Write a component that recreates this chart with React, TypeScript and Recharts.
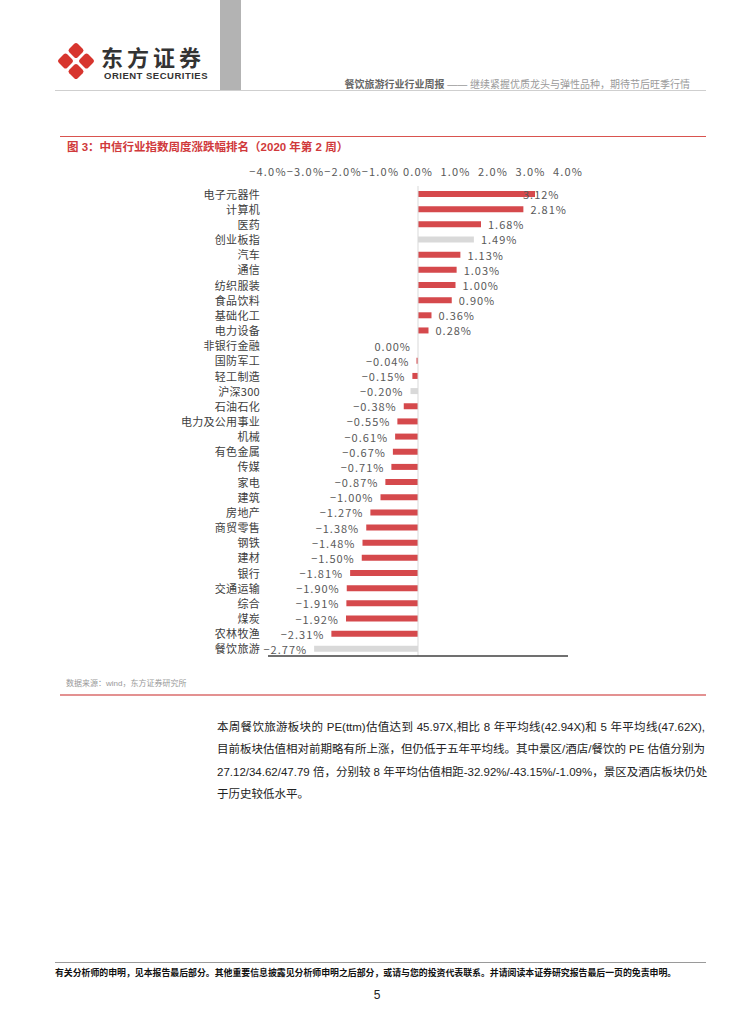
import React from 'react';
import { BarChart, Bar, XAxis, YAxis, Cell, LabelList, ReferenceLine } from 'recharts';

const categories = [
  '电子元器件', '计算机', '医药', '创业板指', '汽车', '通信', '纺织服装', '食品饮料',
  '基础化工', '电力设备', '非银行金融', '国防军工', '轻工制造', '沪深300', '石油石化',
  '电力及公用事业', '机械', '有色金属', '传媒', '家电', '建筑', '房地产', '商贸零售',
  '钢铁', '建材', '银行', '交通运输', '综合', '煤炭', '农林牧渔', '餐饮旅游',
];
const weeklyChange = [
  3.12, 2.81, 1.68, 1.49, 1.13, 1.03, 1.0, 0.9, 0.36, 0.28, 0.0, -0.04, -0.15, -0.2, -0.38,
  -0.55, -0.61, -0.67, -0.71, -0.87, -1.0, -1.27, -1.38, -1.48, -1.5, -1.81, -1.9, -1.91,
  -1.92, -2.31, -2.77,
];
// benchmark indices and the sector this report covers are drawn in grey
const greyCategories = ['创业板指', '沪深300', '餐饮旅游'];
const axisTicks = [-4, -3, -2, -1, 0, 1, 2, 3, 4];

const data = categories.map((name, i) => ({ name, value: weeklyChange[i] }));

const RED = '#d5494c';
const GREY = '#d9d9d9';
const CJK = '"Liberation Sans", "Noto Sans CJK SC", sans-serif';
const CHART_FONT = '"Noto Sans CJK SC", "Noto Sans", sans-serif';

const Y_AXIS_W = 118;
const PLOT_W = 300;
const TOP_AXIS_H = 30;
const PLOT_H = 470;

const minus = (v: number) => (v < 0 ? '\u2212' : '');
const pct2 = (v: number) => `${minus(v)}${Math.abs(v).toFixed(2)}%`;
const pct1 = (v: number) => `${minus(v)}${Math.abs(v).toFixed(1)}%`;

function TopTick({ x, y, payload }: any) {
  return (
    <text x={x} y={y - 13} textAnchor="middle" dominantBaseline="central"
      fontSize={11} fill="#595959" fontFamily={CHART_FONT} style={{ letterSpacing: 1.2 }}>
      {pct1(payload.value)}
    </text>
  );
}

function BottomTick({ x, y }: any) {
  return <line x1={x} x2={x} y1={y - 3} y2={y + 3} stroke="#404040" strokeWidth={1.3} />;
}

function CategoryTick({ x, y, payload }: any) {
  return (
    <text x={x} y={y} textAnchor="end" dominantBaseline="central"
      fontSize={11} fill="#404040" fontFamily={CHART_FONT} style={{ letterSpacing: 0.3 }}>
      {payload.value}
    </text>
  );
}

function ValueLabel(props: any) {
  const { x, y, width, height, value } = props;
  const a = Number(x);
  const b = Number(x) + Number(width);
  const left = Math.min(a, b);
  const right = Math.max(a, b);
  const cy = Number(y) + Number(height) / 2;
  const text = pct2(value);
  const common = {
    y: cy,
    dominantBaseline: 'central' as const,
    fontSize: 11,
    fill: '#595959',
    fontFamily: CHART_FONT,
    style: { letterSpacing: 1 },
  };
  if (value > 0) {
    let tx = right + 7;
    // label would run past the plot edge: pull it back over the bar end
    if (tx + text.length * 6.8 > Y_AXIS_W + PLOT_W) tx = right - 12;
    return <text x={tx} textAnchor="start" {...common}>{text}</text>;
  }
  return <text x={left - 7} textAnchor="end" {...common}>{text}</text>;
}

function Logo() {
  const pieces = [
    [0, -10.5],
    [0, 10.5],
    [-10.5, 0],
    [10.5, 0],
  ];
  return (
    <svg width={42} height={42} style={{ position: 'absolute', left: 55, top: 40 }}>
      <g transform="translate(21,21)">
        {pieces.map(([dx, dy], i) => (
          <rect key={i} x={-6} y={-6} width={12} height={12} rx={2.5}
            fill="#d7352e" transform={`translate(${dx},${dy}) rotate(45)`} />
        ))}
      </g>
    </svg>
  );
}

const abs = (left: number, top: number, extra: React.CSSProperties = {}): React.CSSProperties => ({
  position: 'absolute',
  left,
  top,
  ...extra,
});

const paragraphLines = [
  '本周餐饮旅游板块的 PE(ttm)估值达到 45.97X,相比 8 年平均线(42.94X)和 5 年平均线(47.62X),',
  '目前板块估值相对前期略有所上涨，但仍低于五年平均线。其中景区/酒店/餐饮的 PE 估值分别为',
  '27.12/34.62/47.79 倍，分别较 8 年平均估值相距-32.92%/-43.15%/-1.09%，景区及酒店板块仍处',
  '于历史较低水平。',
];

export default function App() {
  return (
    <div style={{ position: 'absolute', left: 0, top: 0, width: 754, height: 1024, background: '#fff', overflow: 'hidden' }}>
      {/* header */}
      <Logo />
      <div style={abs(101, 45, { fontFamily: '"Noto Sans CJK SC", sans-serif', fontWeight: 700, fontSize: 22, letterSpacing: 4, color: '#333', lineHeight: '22px' })}>
        东方证券
      </div>
      <div style={abs(104, 71, { fontFamily: '"Liberation Sans", Arial, sans-serif', fontWeight: 700, fontSize: 9.5, letterSpacing: 0.5, color: '#333', lineHeight: '10px' })}>
        ORIENT SECURITIES
      </div>
      <div style={abs(220, 0, { width: 21, height: 91, background: '#b3b3b3' })} />
      <div style={abs(55, 90, { width: 651, height: 1, background: '#cfcfcf' })} />
      <div style={{ position: 'absolute', right: 64, top: 78, fontFamily: CJK, fontSize: 10, lineHeight: '14px', whiteSpace: 'nowrap' }}>
        <span style={{ color: '#666', fontWeight: 700 }}>餐饮旅游行业行业周报</span>
        <span style={{ color: '#9a9a9a' }}> —— 继续紧握优质龙头与弹性品种，期待节后旺季行情</span>
      </div>

      {/* figure title */}
      <div style={abs(60, 136, { width: 646, height: 1, background: '#d9534f' })} />
      <div style={abs(67, 140, { fontFamily: CJK, fontWeight: 700, fontSize: 11.5, color: '#d0393b', lineHeight: '15px', whiteSpace: 'nowrap' })}>
        图 3：中信行业指数周度涨跌幅排名（2020 年第 2 周）
      </div>

      {/* chart */}
      <div style={abs(150, 156)}>
        <BarChart
          width={Y_AXIS_W + PLOT_W + 20}
          height={TOP_AXIS_H + PLOT_H + 10}
          data={data}
          layout="vertical"
          margin={{ top: 0, right: 20, bottom: 0, left: 0 }}
          barSize={6}
        >
          <XAxis xAxisId="top" type="number" orientation="top" domain={[-4, 4]} ticks={axisTicks}
            height={TOP_AXIS_H} axisLine={false} tickLine={false} tickSize={0} tick={<TopTick />} />
          <XAxis xAxisId="bottom" type="number" orientation="bottom" domain={[-4, 4]} ticks={axisTicks}
            height={10} axisLine={{ stroke: '#404040', strokeWidth: 1.5 }} tickLine={false}
            tickSize={0} tickMargin={0} tick={<BottomTick />} />
          <YAxis type="category" dataKey="name" width={Y_AXIS_W} interval={0} axisLine={false}
            tickLine={false} tickSize={0} tickMargin={8} tick={<CategoryTick />} />
          <ReferenceLine xAxisId="top" x={0} stroke={GREY} strokeWidth={1} />
          <Bar xAxisId="top" dataKey="value" minPointSize={0.01} isAnimationActive={false}>
            {data.map((d) => (
              <Cell key={d.name} fill={greyCategories.includes(d.name) ? GREY : RED} />
            ))}
            <LabelList dataKey="value" content={<ValueLabel />} />
          </Bar>
        </BarChart>
      </div>

      {/* source */}
      <div style={abs(66, 678, { fontFamily: CJK, fontSize: 8, color: '#999', lineHeight: '11px', whiteSpace: 'nowrap' })}>
        数据来源：wind，东方证券研究所
      </div>
      <div style={abs(60, 694, { width: 646, height: 1.5, background: '#e39191' })} />

      {/* commentary */}
      <div style={abs(217, 716, { width: 488, fontFamily: CJK, fontSize: 11.5, color: '#222', lineHeight: '22.4px' })}>
        {paragraphLines.map((line, i) => (
          <div key={i} style={{ textAlign: 'justify', textAlignLast: i < paragraphLines.length - 1 ? 'justify' : 'left', whiteSpace: 'nowrap' }}>
            {line}
          </div>
        ))}
      </div>

      {/* footer */}
      <div style={abs(55, 962, { width: 651, height: 1, background: '#9a9a9a' })} />
      <div style={abs(55, 967, { fontFamily: CJK, fontWeight: 700, fontSize: 8.9, color: '#111', lineHeight: '12px', whiteSpace: 'nowrap' })}>
        有关分析师的申明，见本报告最后部分。其他重要信息披露见分析师申明之后部分，或请与您的投资代表联系。并请阅读本证券研究报告最后一页的免责申明。
      </div>
      <div style={{ position: 'absolute', left: 0, width: 754, top: 988, textAlign: 'center', fontFamily: '"Liberation Sans", Arial, sans-serif', fontSize: 12, color: '#222', lineHeight: '14px' }}>
        5
      </div>
    </div>
  );
}
